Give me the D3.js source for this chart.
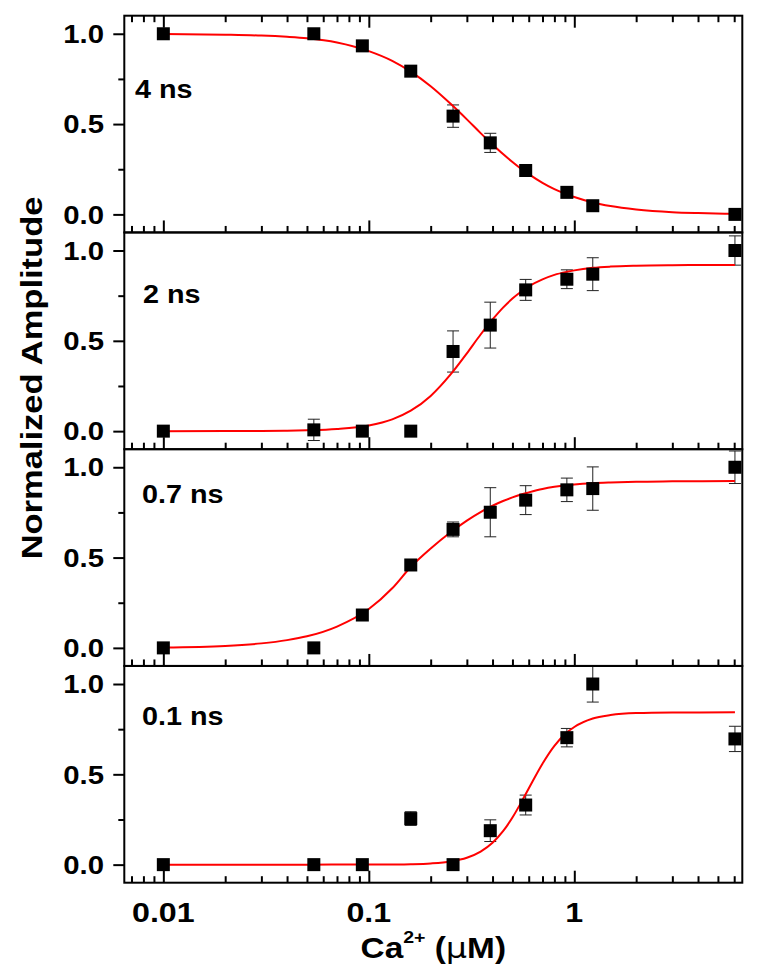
<!DOCTYPE html>
<html><head><meta charset="utf-8">
<script src="https://cdn.jsdelivr.net/npm/d3@7"></script>
<style>
html,body{margin:0;padding:0;background:#fff;}
svg{display:block;}
text{font-family:"Liberation Sans",Arial,Helvetica,sans-serif;font-weight:bold;fill:#000;}
</style></head><body>
<svg id="chart" width="757" height="978"></svg>
<script>
// ---------- data ----------
const concentrations = [0.01, 0.054, 0.093, 0.16, 0.257, 0.39, 0.58, 0.92, 1.23, 6.05];
const panelLabels = ["4 ns", "2 ns", "0.7 ns", "0.1 ns"];

const amp4ns  = [1.0, 1.0, 0.933, 0.793, 0.544, 0.396, 0.243, 0.122, 0.048, 0.0];
const err4ns  = [0, 0, 0, 0, 0.062, 0.053, 0, 0, 0, 0];
const amp2ns  = [0.0, 0.007, 0.0, 0.0, 0.441, 0.587, 0.782, 0.841, 0.869, 1.0];
const err2ns  = [0, 0.059, 0, 0, 0.114, 0.127, 0.058, 0.052, 0.091, 0.081];
const amp07ns = [0.0, 0.0, 0.182, 0.459, 0.656, 0.751, 0.818, 0.875, 0.882, 1.0];
const err07ns = [0, 0, 0, 0, 0.041, 0.136, 0.08, 0.065, 0.12, 0.09];
const amp01ns = [0.0, 0.0, 0.0, 0.255, 0.0, 0.188, 0.330, 0.703, 1.0, 0.696];
const err01ns = [0, 0, 0, 0.038, 0, 0.06, 0.055, 0.051, 0.10, 0.07];

// fitted curves at these concentrations
const fitConc  = [0.01, 0.02, 0.03, 0.04, 0.05, 0.07, 0.1, 0.13, 0.16, 0.2, 0.25, 0.3, 0.35, 0.4, 0.45, 0.5, 0.55, 0.6, 0.7, 0.8, 0.92, 1.0, 1.23, 1.5, 2, 3, 4, 6.05];
const fit4ns   = [0.999, 0.995, 0.99, 0.983, 0.975, 0.952, 0.904, 0.85, 0.79, 0.709, 0.612, 0.526, 0.45, 0.387, 0.334, 0.29, 0.253, 0.223, 0.175, 0.14, 0.111, 0.096, 0.066, 0.046, 0.027, 0.012, 0.007, 0.003];
const fit2ns   = [0.0, 0.0003, 0.001, 0.0022, 0.0043, 0.0113, 0.031, 0.065, 0.113, 0.195, 0.314, 0.431, 0.535, 0.618, 0.684, 0.734, 0.772, 0.801, 0.84, 0.865, 0.882, 0.89, 0.904, 0.911, 0.916, 0.919, 0.92, 0.92];
const fit07ns  = [0.0026, 0.011, 0.025, 0.043, 0.064, 0.118, 0.215, 0.33, 0.448, 0.55, 0.64, 0.705, 0.752, 0.787, 0.813, 0.833, 0.849, 0.861, 0.88, 0.892, 0.901, 0.905, 0.912, 0.916, 0.92, 0.922, 0.923, 0.924];
const fit01ns  = [0.0, 0.0, 0.0, 0.0, 0.0, 0.0001, 0.0003, 0.001, 0.0025, 0.0067, 0.0175, 0.038, 0.072, 0.121, 0.185, 0.261, 0.342, 0.4215, 0.559, 0.658, 0.731, 0.762, 0.809, 0.828, 0.839, 0.8423, 0.8428, 0.843];

const xTickValues = [0.01, 0.1, 1];
const xTickLabels = ["0.01", "0.1", "1"];
const yTickValues = [0, 0.5, 1.0];
const yTickLabels = ["0.0", "0.5", "1.0"];
const yMinorValues = [0.25, 0.75];

// ---------- layout ----------
const W = 757, H = 978;
const plotLeft = 124.3, plotRight = 742.3, plotTop = 15.7, panelH = 216.75;
const labelPos = [[135, 82.6], [143, 70.4], [142, 54], [142, 59]];
const textScale = 1.15;
const markerSize = 13;

const panels = [
  {label: panelLabels[0], amp: amp4ns,  err: err4ns,  fit: fit4ns},
  {label: panelLabels[1], amp: amp2ns,  err: err2ns,  fit: fit2ns},
  {label: panelLabels[2], amp: amp07ns, err: err07ns, fit: fit07ns},
  {label: panelLabels[3], amp: amp01ns, err: err01ns, fit: fit01ns}
];

const svg = d3.select("#chart");
svg.append("rect").attr("width", W).attr("height", H).attr("fill", "#fff");

const x = d3.scaleLog().domain([0.006457, 6.57]).range([plotLeft, plotRight]);
const xMinor = x.ticks().filter(v => !xTickValues.some(t => Math.abs(t - v) < 1e-12));

function styleAxis(g) {
  g.select(".domain").remove();
  g.selectAll(".tick line").attr("stroke", "#000").attr("stroke-width", 2);
}

panels.forEach((p, i) => {
  const top = plotTop + i * panelH;
  const bottom = top + panelH;
  const y = d3.scaleLinear().domain([-0.1, 1.1]).range([bottom, top]);
  const g = svg.append("g");

  // y axis ticks (outward)
  g.append("g").attr("transform", `translate(${plotLeft},0)`)
    .call(d3.axisLeft(y).tickValues(yTickValues).tickSize(11).tickFormat(""))
    .call(styleAxis);
  g.append("g").attr("transform", `translate(${plotLeft},0)`)
    .call(d3.axisLeft(y).tickValues(yMinorValues).tickSize(6).tickFormat(""))
    .call(styleAxis);

  // y tick labels
  yTickValues.forEach((v, k) => {
    g.append("text")
      .attr("transform", `translate(104,${y(v)}) scale(${textScale},1)`)
      .attr("text-anchor", "end").attr("dy", "0.36em")
      .attr("font-size", 25.5).text(yTickLabels[k]);
  });

  // x ticks on bottom (inward)
  g.append("g").attr("transform", `translate(0,${bottom})`)
    .call(d3.axisTop(x).tickValues(xTickValues).tickSize(12).tickFormat(""))
    .call(styleAxis);
  g.append("g").attr("transform", `translate(0,${bottom})`)
    .call(d3.axisTop(x).tickValues(xMinor).tickSize(6.5).tickFormat(""))
    .call(styleAxis);
  if (i === 0) {
    g.append("g").attr("transform", `translate(0,${top})`)
      .call(d3.axisBottom(x).tickValues(xTickValues).tickSize(12).tickFormat(""))
      .call(styleAxis);
    g.append("g").attr("transform", `translate(0,${top})`)
      .call(d3.axisBottom(x).tickValues(xMinor).tickSize(6.5).tickFormat(""))
      .call(styleAxis);
  }

  // error bars
  const eb = g.append("g").attr("stroke", "#222").attr("stroke-width", 1);
  concentrations.forEach((c, k) => {
    const e = p.err[k];
    if (!e) return;
    const cx = x(c), y1 = y(p.amp[k] - e), y2 = y(p.amp[k] + e);
    eb.append("line").attr("x1", cx).attr("x2", cx).attr("y1", y1).attr("y2", y2);
    eb.append("line").attr("x1", cx - 6).attr("x2", cx + 6).attr("y1", y1).attr("y2", y1);
    eb.append("line").attr("x1", cx - 6).attr("x2", cx + 6).attr("y1", y2).attr("y2", y2);
  });

  // fit curve
  const line = d3.line().x(d => x(d[0])).y(d => y(d[1])).curve(d3.curveMonotoneX);
  g.append("path").datum(fitConc.map((c, k) => [c, p.fit[k]]))
    .attr("d", line).attr("fill", "none").attr("stroke", "#ff0000").attr("stroke-width", 2);

  // markers
  g.selectAll("rect.pt").data(concentrations.map((c, k) => [c, p.amp[k]]))
    .join("rect").attr("class", "pt")
    .attr("x", d => x(d[0]) - markerSize / 2).attr("y", d => y(d[1]) - markerSize / 2)
    .attr("width", markerSize).attr("height", markerSize).attr("fill", "#000");

  // frame
  g.append("rect").attr("x", plotLeft).attr("y", top)
    .attr("width", plotRight - plotLeft).attr("height", panelH)
    .attr("fill", "none").attr("stroke", "#000").attr("stroke-width", 2);

  // panel label
  g.append("text")
    .attr("transform", `translate(${labelPos[i][0]},${labelPos[i][1] + top}) scale(${textScale},1)`)
    .attr("font-size", 25).text(p.label);

  // x tick labels on the bottom panel
  if (i === panels.length - 1) {
    xTickValues.forEach((v, k) => {
      g.append("text")
        .attr("transform", `translate(${x(v)},922) scale(${textScale},1)`)
        .attr("text-anchor", "middle").attr("font-size", 28).text(xTickLabels[k]);
    });
  }
});

// axis titles
const xt = svg.append("text")
  .attr("transform", `translate(${(plotLeft + plotRight) / 2},958) scale(${textScale},1)`)
  .attr("text-anchor", "middle").attr("font-size", 29);
xt.append("tspan").text("Ca");
xt.append("tspan").attr("font-size", 17).attr("dy", -15).text("2+");
xt.append("tspan").attr("dy", 15).text(" (");
xt.append("tspan").attr("font-weight", "normal").attr("font-family", "'DejaVu Sans', sans-serif").text("\u03bc");
xt.append("tspan").text("M)");

svg.append("text")
  .attr("transform", `translate(42,378) rotate(-90) scale(${textScale},1)`)
  .attr("text-anchor", "middle").attr("font-size", 30).text("Normalized Amplitude");
</script>
</body></html>
